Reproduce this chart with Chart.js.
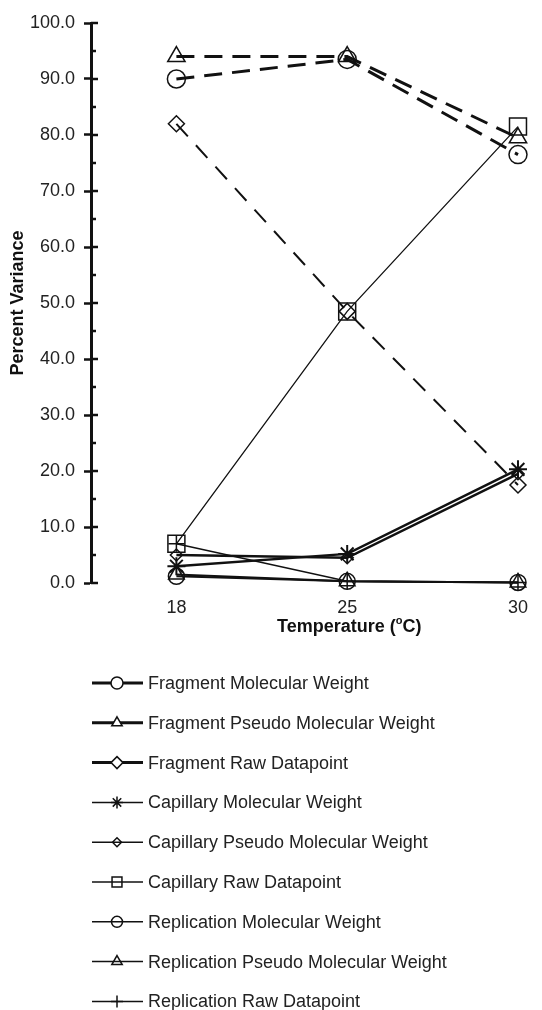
<!DOCTYPE html>
<html>
<head>
<meta charset="utf-8">
<script src="https://cdn.jsdelivr.net/npm/chart.js@4.4.1/dist/chart.umd.min.js"></script>
<style>
  html, body { margin: 0; padding: 0; background: #fff; }
  #wrap { width: 542px; height: 1010px; }
</style>
</head>
<body>
<div id="wrap"><canvas id="chart"></canvas></div>
<script>
// temperatures (x categories)
const temperatures = ['18', '25', '30'];

// percent variance per series
const fragmentMolecularWeight = [90.0, 93.5, 76.5];
const fragmentPseudoMolecularWeight = [94.0, 94.0, 79.5];
const fragmentRawDatapoint = [82.0, 48.5, 17.5];
const capillaryMolecularWeight = [3.0, 5.2, 20.3];
const capillaryPseudoMolecularWeight = [5.0, 4.5, 19.5];
const capillaryRawDatapoint = [7.0, 48.5, 81.5];
const replicationMolecularWeight = [1.2, 0.3, 0.1];
const replicationPseudoMolecularWeight = [1.5, 0.3, 0.1];
const replicationRawDatapoint = [7.0, 0.3, 0.1];

const yMin = 0, yMax = 100, yStep = 5, yLabelStep = 10;

const ink = '#111';
const toPoints = vals => vals.map((v, i) => ({ x: i, y: v }));

function series(label, values, style) {
    return Object.assign({
        label: label,
        data: toPoints(values),
        borderColor: ink,
        pointBorderColor: ink,
        pointBackgroundColor: 'rgba(0,0,0,0)',
        pointBorderWidth: 1.5,
        fill: false,
        tension: 0,
        clip: false,
        legendFill: 'rgba(0,0,0,0)',
        legendLineWidth: 1.5
    }, style);
}

const datasets = [
    series('Fragment Molecular Weight', fragmentMolecularWeight,
        { borderWidth: 3, borderDash: [18, 10], pointStyle: 'circle', pointRadius: 9, legendRadius: 6, legendFill: '#fff', legendLineWidth: 3 }),
    series('Fragment Pseudo Molecular Weight', fragmentPseudoMolecularWeight,
        { borderWidth: 3, borderDash: [18, 10], pointStyle: 'triangle', pointRadius: 10, legendRadius: 6, legendFill: '#fff', legendLineWidth: 3 }),
    series('Fragment Raw Datapoint', fragmentRawDatapoint,
        { borderWidth: 2, borderDash: [17, 12], pointStyle: 'rectRot', pointRadius: 8, legendRadius: 6, legendFill: '#fff', legendLineWidth: 3 }),
    series('Capillary Molecular Weight', capillaryMolecularWeight,
        { borderWidth: 2.5, pointStyle: 'star', pointRadius: 9, pointBorderWidth: 2, legendRadius: 6 }),
    series('Capillary Pseudo Molecular Weight', capillaryPseudoMolecularWeight,
        { borderWidth: 2.5, pointStyle: 'rectRot', pointRadius: 6, legendRadius: 4.5 }),
    series('Capillary Raw Datapoint', capillaryRawDatapoint,
        { borderWidth: 1.3, pointStyle: 'rect', pointRadius: 12, legendRadius: 7 }),
    series('Replication Molecular Weight', replicationMolecularWeight,
        { borderWidth: 2, pointStyle: 'circle', pointRadius: 8, legendRadius: 5.5 }),
    series('Replication Pseudo Molecular Weight', replicationPseudoMolecularWeight,
        { borderWidth: 2, pointStyle: 'triangle', pointRadius: 9, legendRadius: 6 }),
    series('Replication Raw Datapoint', replicationRawDatapoint,
        { borderWidth: 1.5, pointStyle: 'cross', pointRadius: 8, legendRadius: 6 })
];

// tick stubs on the right of the y axis, x title, stacked legend
const figureExtras = {
    id: 'figureExtras',
    afterDraw(chart) {
        const ctx = chart.ctx;
        const area = chart.chartArea;
        const y = chart.scales.y;
        const x = chart.scales.x;

        ctx.save();
        ctx.strokeStyle = ink;
        ctx.lineWidth = 2.5;
        y.ticks.forEach(t => {
            const py = y.getPixelForValue(t.value);
            const len = t.value % yLabelStep === 0 ? 7 : 5;
            ctx.beginPath();
            ctx.moveTo(area.left, py);
            ctx.lineTo(area.left + len, py);
            ctx.stroke();
        });

        // x title with superscript o
        ctx.fillStyle = ink;
        ctx.textBaseline = 'middle';
        const big = 'bold 18px "Liberation Sans", Arial, sans-serif';
        const small = 'bold 11px "Liberation Sans", Arial, sans-serif';
        const parts = [['Temperature (', big, 0], ['o', small, -6], ['C)', big, 0]];
        let total = 0;
        parts.forEach(p => { ctx.font = p[1]; total += ctx.measureText(p[0]).width; });
        let cx = x.getPixelForValue(1) + 2 - total / 2;
        const ty = area.bottom + 44;
        ctx.textAlign = 'left';
        parts.forEach(p => {
            ctx.font = p[1];
            ctx.fillText(p[0], cx, ty + p[2]);
            cx += ctx.measureText(p[0]).width;
        });

        // legend
        const lx = area.left + 1;
        const top = area.bottom + 100;
        chart.data.datasets.forEach((ds, i) => {
            const ly = top + i * 39.8;
            ctx.setLineDash([]);
            ctx.strokeStyle = ink;
            ctx.lineWidth = ds.legendLineWidth;
            ctx.beginPath();
            ctx.moveTo(lx, ly);
            ctx.lineTo(lx + 51, ly);
            ctx.stroke();
            ctx.fillStyle = ds.legendFill;
            ctx.lineWidth = 1.5;
            Chart.helpers.drawPoint(ctx, {
                pointStyle: ds.pointStyle,
                radius: ds.legendRadius,
                rotation: 0,
                borderWidth: 1.5
            }, lx + 25, ly);
            ctx.fillStyle = '#222';
            ctx.font = '18px "Liberation Sans", Arial, sans-serif';
            ctx.textAlign = 'left';
            ctx.textBaseline = 'middle';
            ctx.fillText(ds.label, lx + 56, ly + 1);
        });
        ctx.restore();
    }
};

Chart.defaults.font.family = '"Liberation Sans", Arial, sans-serif';
Chart.defaults.font.size = 18;
Chart.defaults.color = '#222';

new Chart(document.getElementById('chart'), {
    type: 'line',
    data: { datasets: datasets },
    options: {
        responsive: true,
        maintainAspectRatio: false,
        animation: false,
        layout: { padding: { top: 23, right: 14, left: 0, bottom: 0 } },
        plugins: {
            legend: { display: false },
            tooltip: { enabled: false }
        },
        scales: {
            x: {
                type: 'linear',
                min: -0.5,
                max: temperatures.length - 1,
                afterBuildTicks: scale => {
                    scale.ticks = temperatures.map((t, i) => ({ value: i }));
                },
                afterFit: scale => { scale.height = 427; },
                ticks: {
                    autoSkip: false,
                    maxRotation: 0,
                    padding: 14,
                    callback: value => temperatures[value]
                },
                grid: { display: false, drawTicks: false },
                border: { display: false }
            },
            y: {
                min: yMin,
                max: yMax,
                afterFit: scale => { scale.width = 91; },
                ticks: {
                    stepSize: yStep,
                    autoSkip: false,
                    padding: 9,
                    color: '#222',
                    callback: value => value % yLabelStep === 0 ? value.toFixed(1) : ''
                },
                grid: {
                    drawOnChartArea: false,
                    tickLength: 7,
                    tickWidth: 2.5,
                    tickColor: c => c.tick && c.tick.value % yLabelStep === 0 ? ink : 'rgba(0,0,0,0)'
                },
                border: { display: true, color: ink, width: 3 },
                title: {
                    display: true,
                    text: 'Percent Variance',
                    color: ink,
                    font: { weight: 'bold', size: 18 },
                    padding: { top: 7, bottom: 0 }
                }
            }
        }
    },
    plugins: [figureExtras]
});
</script>
</body>
</html>
